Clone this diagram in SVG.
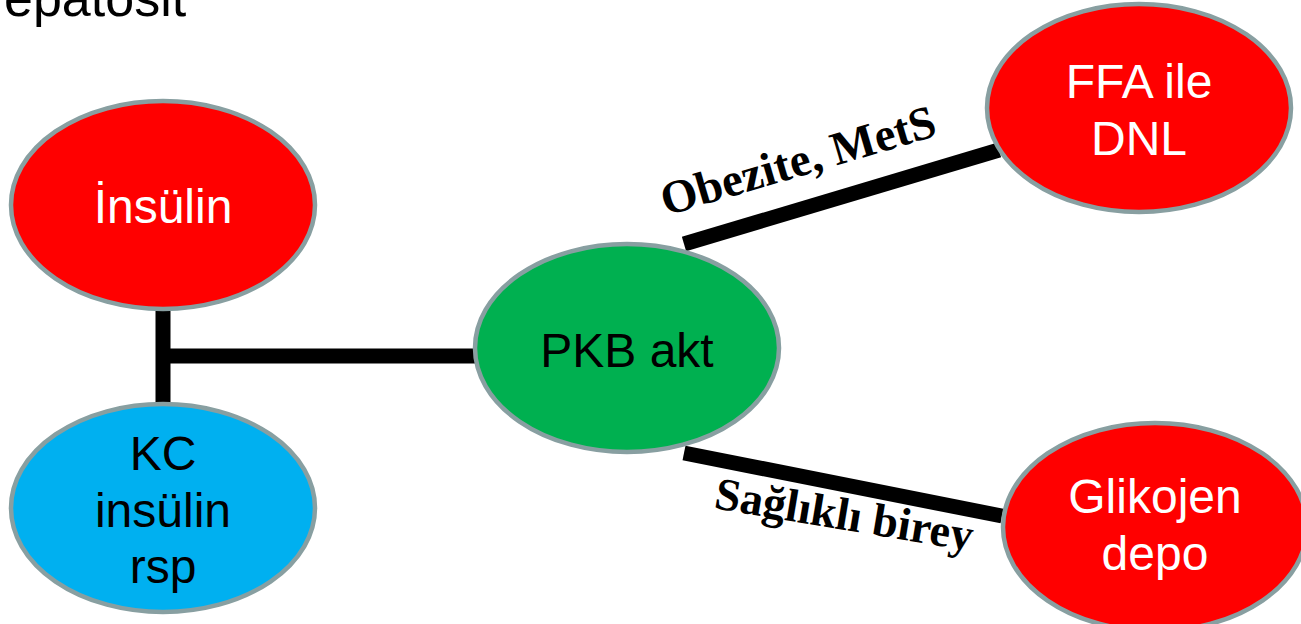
<svg xmlns="http://www.w3.org/2000/svg" width="1301" height="624" viewBox="0 0 1301 624">
<style>
.node{stroke:#889FA1;stroke-width:4.5}
.red{fill:#FF0000}
.blue{fill:#00B0F0}
.green{fill:#00B050}
.t{font-family:"Liberation Sans",Arial,sans-serif;font-size:48px;text-anchor:middle}
.w{fill:#FFFFFF}
.k{fill:#000000}
.lbl{font-family:"Liberation Serif","Times New Roman",serif;font-weight:bold;fill:#000}
.c{stroke:#000;stroke-width:15;fill:none}
</style>
<rect width="1301" height="624" fill="#FFFFFF"/>
<text x="4" y="16" font-family="Liberation Sans, Arial, sans-serif" font-size="52" fill="#000">epatosit</text>
<g id="connectors">
<line class="c" x1="163" y1="308" x2="163" y2="405"/>
<line class="c" x1="163" y1="356" x2="476" y2="356"/>
<line class="c" x1="684" y1="244" x2="999" y2="150"/>
<line class="c" x1="684" y1="453" x2="1002" y2="516"/>
<text class="lbl" font-size="47" transform="translate(666,216) rotate(-16.5)">Obezite, MetS</text>
<text class="lbl" font-size="46" transform="translate(713,508) rotate(9.5)">Sağlıklı birey</text>
</g>
<g id="insulin">
<ellipse class="node red" cx="163" cy="205" rx="152" ry="104"/>
<text class="t w" x="163" y="223">İnsülin</text>
</g>
<g id="kc">
<ellipse class="node blue" cx="163" cy="508" rx="152" ry="104"/>
<text class="t k" x="163" y="470">KC</text>
<text class="t k" x="163" y="527">insülin</text>
<text class="t k" x="163" y="583">rsp</text>
</g>
<g id="pkb">
<ellipse class="node green" cx="627" cy="348" rx="152" ry="104"/>
<text class="t k" x="627" y="367">PKB akt</text>
</g>
<g id="ffa">
<ellipse class="node red" cx="1139" cy="108" rx="152" ry="104"/>
<text class="t w" x="1139" y="98">FFA ile</text>
<text class="t w" x="1139" y="155">DNL</text>
</g>
<g id="glikojen">
<ellipse class="node red" cx="1155" cy="527" rx="152" ry="104"/>
<text class="t w" x="1155" y="513">Glikojen</text>
<text class="t w" x="1155" y="570">depo</text>
</g>
</svg>
